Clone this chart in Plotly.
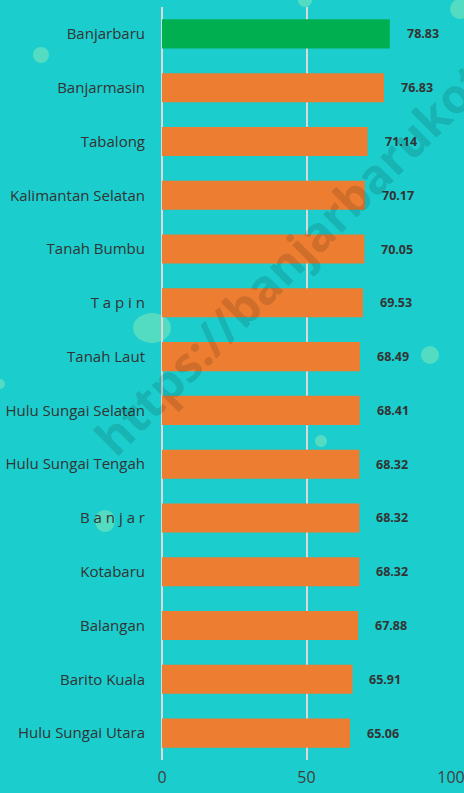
import plotly.graph_objects as go

regions = ["Banjarbaru", "Banjarmasin", "Tabalong", "Kalimantan Selatan", "Tanah Bumbu",
           "T a p i n", "Tanah Laut", "Hulu Sungai Selatan", "Hulu Sungai Tengah",
           "B a n j a r", "Kotabaru", "Balangan", "Barito Kuala", "Hulu Sungai Utara"]
values = [78.83, 76.83, 71.14, 70.17, 70.05, 69.53, 68.49, 68.41, 68.32, 68.32, 68.32,
          67.88, 65.91, 65.06]
x_ticks = [0, 50, 100]
highlight = "Banjarbaru"

W, H = 464, 793
ML, MR, MT, MB = 162, 13, 7, 33
PW, PH = W - ML - MR, H - MT - MB

BG = "#1CCDCD"
colors = ["#00B050" if r == highlight else "#ED7D31" for r in regions]

fig = go.Figure()
fig.add_trace(go.Bar(
    x=values, y=regions, orientation="h", marker=dict(color=colors, line=dict(width=0)),
    width=0.54, hoverinfo="x+y",
))

annotations = []


def px_to_paper(px, py):
    return (px - ML) / PW, (H - MB - py) / PH


# watermark
wx, wy = px_to_paper(77, 472)
annotations.append(dict(
    x=wx, y=wy, xref="paper", yref="paper", xanchor="left", yanchor="bottom",
    text="https://banjarbarukota.bps.go.id", showarrow=False, textangle=-45,
    font=dict(family="Open Sans", size=48, color="rgba(0,0,0,0.15)", weight="bold"),
))

for r, v in zip(regions, values):
    annotations.append(dict(
        x=v, y=r, xref="x", yref="y", text=f"{v:.2f}", showarrow=False,
        xanchor="left", xshift=15,
        font=dict(family="Open Sans", size=12.5, color="#333333", weight="bold"),
    ))

# decorative bubbles
bubbles = [(41, 55, 8, 8), (305, 0, 7, 7), (460, 9, 10, 10), (152, 328, 19, 15),
           (430, 355, 9, 9), (321, 441, 6, 6), (105, 521, 10, 11), (0, 384, 5, 5)]
shapes = []
for cx, cy, rx, ry in bubbles:
    x0, y0 = px_to_paper(cx - rx, cy + ry)
    x1, y1 = px_to_paper(cx + rx, cy - ry)
    shapes.append(dict(type="circle", xref="paper", yref="paper", x0=x0, y0=y0, x1=x1, y1=y1,
                       fillcolor="rgba(150,240,180,0.45)", line=dict(width=0), layer="below"))

fig.update_layout(
    width=W, height=H, margin=dict(l=ML, r=MR, t=MT, b=MB, autoexpand=False),
    paper_bgcolor=BG, plot_bgcolor=BG, showlegend=False,
    annotations=annotations, shapes=shapes,
    xaxis=dict(range=[0, 100], tickvals=x_ticks, showgrid=True, gridcolor="#D9D9D9",
               gridwidth=1.5, zeroline=True, zerolinecolor="#D9D9D9", zerolinewidth=1.5,
               showline=False, ticks="", ticklabelstandoff=6, ticklabeloverflow="allow",
               automargin=False,
               tickfont=dict(family="Open Sans", size=16, color="#404040"), fixedrange=True),
    yaxis=dict(autorange="reversed", showgrid=False, ticks="", ticklabelstandoff=16,
               automargin=False,
               tickfont=dict(family="Open Sans", size=15, color="#333333"), fixedrange=True),
    bargap=0.46,
)

fig.write_html(
    "out.html",
    config={"displayModeBar": False},
    post_script="document.body.style.margin='0';document.body.style.overflow='hidden';",
)
